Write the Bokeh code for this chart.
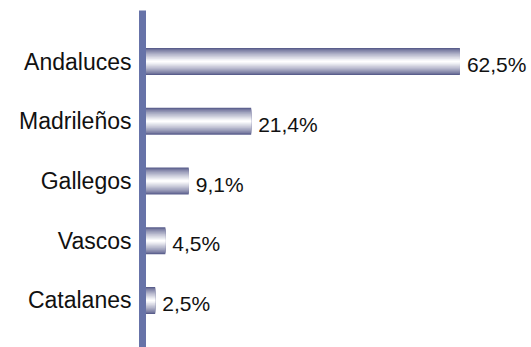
from bokeh.plotting import figure
from bokeh.models import ColumnDataSource, Range1d, FixedTicker
from bokeh.embed import file_html
from bokeh.resources import INLINE
from bokeh.core.properties import value

categories = ["Catalanes", "Vascos", "Gallegos", "Madrileños", "Andaluces"]
values = [2.5, 4.5, 9.1, 21.4, 62.5]
value_labels = ["2,5%", "4,5%", "9,1%", "21,4%", "62,5%"]

FONT = "Liberation Sans"
positions = list(range(len(categories)))

src = ColumnDataSource(dict(y=positions, v=values, lab=value_labels))

p = figure(width=531, height=347, output_backend="svg", toolbar_location=None,
           x_range=Range1d(0, 76.6), y_range=Range1d(-0.787, 4.854),
           min_border_left=142, min_border_right=0, min_border_top=10, min_border_bottom=0)
p.outline_line_color = None
p.xgrid.visible = False
p.ygrid.visible = False
p.xaxis.visible = False
p.background_fill_color = "white"
p.border_fill_color = "white"

# gradient bars: nested hbars, dark at the edges, white in the middle
dark = (0x5a, 0x5e, 0x8c)
light = (0xff, 0xff, 0xff)
n = 16
bar_h = 0.45
for i in range(n):
    t = i / (n - 1)
    t = t ** 0.8
    c = tuple(int(round(dark[k] + (light[k] - dark[k]) * t)) for k in range(3))
    col = "#%02x%02x%02x" % c
    h = bar_h * (1 - i / n)
    p.hbar(y="y", right="v", left=0, height=h, source=src, fill_color=col, line_color=None)

p.text(x="v", y="y", text="lab", source=src, x_offset=7, y_offset=3,
       text_font=value(FONT), text_font_size="21px", text_baseline="middle",
       text_align="left", text_color="#111111")

ax = p.yaxis[0]
ax.ticker = FixedTicker(ticks=positions)
ax.major_label_overrides = {i: c for i, c in zip(positions, categories)}
ax.axis_line_color = "#6773a8"
ax.axis_line_width = 7
ax.major_tick_line_color = None
ax.minor_tick_line_color = None
ax.major_label_text_font = FONT
ax.major_label_text_font_size = "23px"
ax.major_label_text_color = "#111111"
ax.major_label_standoff = 5

open("out.html", "w").write(file_html(p, INLINE))
